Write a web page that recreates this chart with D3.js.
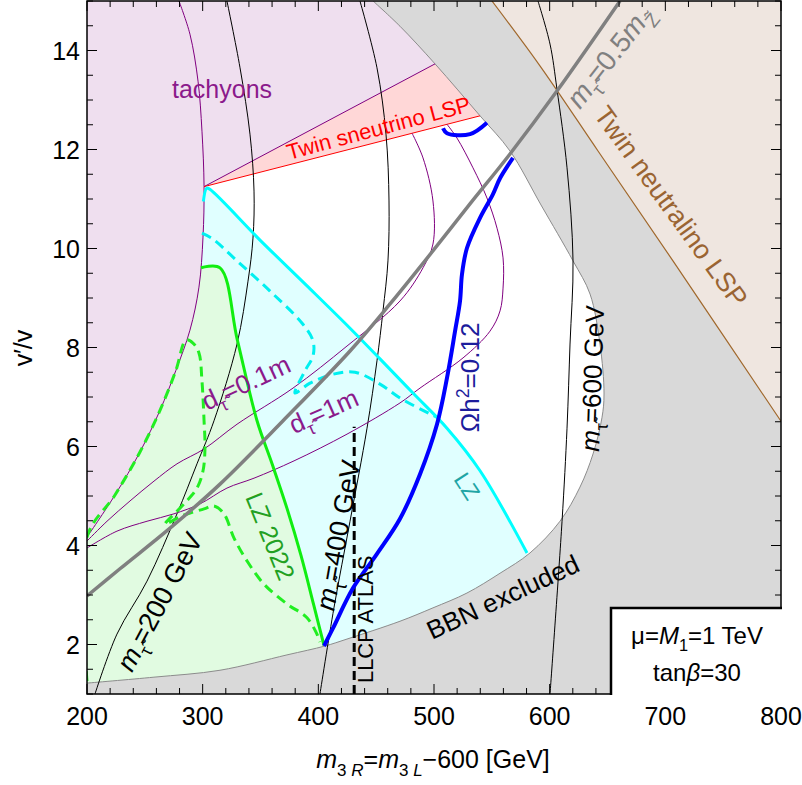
<!DOCTYPE html>
<html><head><meta charset="utf-8">
<script src="https://cdn.jsdelivr.net/npm/d3@7"></script>
<style>body{margin:0;background:#fff}svg{display:block;font-family:"Liberation Sans",Arial,sans-serif}</style>
</head><body><svg id="c" width="802" height="785"></svg>
<script>
// ---------- data (x = m3R [GeV], y = v'/v) ----------
const xTicks = [200,300,400,500,600,700,800];
const yTicks = [2,4,6,8,10,12,14];
const bbnEdge = [[447.3,15],[470.6,14.49],[500.9,13.73],[539.8,12.68],[565.7,11.97],[592.5,10.88],[620.2,9.75],[634.9,9.08],[643.5,8.07],[647.0,7.06],[645.2,6.58],[637.5,5.85],[626.2,5.18],[608.9,4.49],[583.0,3.85],[557.1,3.44],[528.5,3.04],[499.1,2.74],[470.6,2.47],[424.8,2.11],[405.8,1.97],[372.9,1.79],[315.0,1.48],[257.9,1.34],[200,1.22]];
const neutralinoEdge = [[550.1,15],[591.6,13.69],[641.8,11.97],[706.6,9.75],[800,6.51]];
const tachyonEdge = [[279.5,15],[289.0,14.33],[296.0,13.38],[299.4,12.37],[301.2,11.25],[300.3,10.23],[296.8,9.22],[289.0,8.35],[276.9,7.54],[263.1,6.73],[245.8,5.89],[224.2,5.02],[200,4.17]];
const sneutrinoUpper = [[301.2,11.25],[500.9,13.73]];
const sneutrinoLower = [[301.2,11.25],[539.8,12.68]];
const lzLine = [[300.6,10.95],[303.5,11.22],[306.5,11.19],[350,10.16],[390,9.25],[427.4,8.39],[453.3,7.77],[481.8,7.08],[511.2,6.37],[539.8,5.51],[580.4,3.85]];
const lzDashed = [[299.4,10.31],[308.9,10.19],[329.7,9.75],[358.2,9.14],[386.7,8.47],[395.4,8.13],[395.4,7.83],[388.5,7.53],[379.8,7.08],[392.8,7.28],[412.7,7.46],[431.7,7.50],[453.3,7.26],[470.6,6.98],[496.5,6.66],[505.2,6.56]];
const lz2022Line = [[298.6,9.61],[315.0,9.61],[330.0,8.15],[347.0,6.52],[360.0,5.65],[372.9,4.75],[385.0,3.80],[396.0,2.80],[404.9,1.98]];
const lz2022Dashed = [[200,1.26],[200,4.17],[224.2,5.02],[245.8,5.89],[263.1,6.73],[276.9,7.54],[285.6,8.15],[291.6,8.09],[296.8,7.89],[299.4,7.32],[301.2,6.52],[302.0,5.97],[300.3,5.51],[295.1,5.16],[283.9,4.84],[267.4,4.43],[282.1,4.60],[301.2,4.74],[309.8,4.80],[318.4,4.64],[327.1,4.15],[338.3,3.69],[353.0,3.22],[372.9,2.82],[390.2,2.54],[398.8,2.21],[401.4,2.05]];
const relicLine = [[404.9,1.97],[412.7,2.33],[430.0,3.14],[450.7,3.83],[470.6,4.54],[487.9,5.44],[502.6,6.45],[511.2,7.38],[518.2,8.33],[522.5,8.94],[524.2,9.48],[528.5,10.01],[539.8,10.62],[551.0,11.10],[557.1,11.42],[568.3,11.83]];
const relicTop = [[507.8,12.43],[511.2,12.33],[531.1,12.31],[545.8,12.54]];
const decay01 = [[200,4.09],[217.3,4.49],[237.2,4.90],[257.9,5.30],[277.8,5.65],[301.2,5.95],[329.7,6.45],[378.1,7.18],[424.8,8.03],[470.6,8.94],[490.5,9.61],[499.1,10.09],[499.1,10.96],[490.5,11.83],[481.0,12.33]];
const decay1 = [[200,3.95],[225.9,4.29],[251.9,4.49],[275.2,4.64],[297.7,4.84],[321.0,5.16],[344.4,5.36],[379.0,5.71],[424.8,6.25],[470.6,6.88],[487.9,7.18],[525.1,7.79],[548.4,8.33],[557.1,8.74],[559.7,9.20],[559.7,9.81],[554.5,10.41],[545.8,11.02],[533.7,11.63],[519.9,12.23],[511.2,12.51]];
const halfZLine = [[200,2.98],[228.5,3.53],[271.8,4.35],[315.0,5.24],[369.5,6.52],[427.4,7.93],[462.0,8.88],[492.2,9.75],[531.1,10.90],[565.7,11.91],[606.3,13.18],[660.8,15]];
const stau200 = [[321.0,15],[332.3,13.65],[340.9,12.31],[344.4,11.16],[343.5,10.21],[339.2,9.34],[329.7,8.07],[309.8,6.52],[295.1,5.65],[277.8,4.64],[251.9,3.28],[225.9,2.21],[206.9,1]];
const stau400 = [[436.0,15],[450.7,13.65],[458.5,12.31],[461.1,10.96],[460.2,9.75],[455.9,8.74],[450.7,7.73],[442.1,6.37],[427.4,4.49],[413.5,2.74],[401.4,1]];
const stau600 = [[589.9,15],[600.3,14.13],[606.3,13.22],[615.0,11.63],[620.2,9.75],[617.6,8.07],[615.0,6.37],[610.7,4.49],[600.3,1]];
const llcpATLAS = [[431,1],[431,6.4]];

// ---------- setup ----------
const L=87,R=781,T=1,B=694;
const x=d3.scaleLinear().domain([200,800]).range([L,R]);
const y=d3.scaleLinear().domain([1,15]).range([B,T]);
const svg=d3.select('#c');
svg.append('defs').append('clipPath').attr('id','clip').append('rect')
  .attr('x',L).attr('y',T).attr('width',R-L).attr('height',B-T);
const g=svg.append('g').attr('clip-path','url(#clip)');
const smooth=d3.line().x(d=>x(d[0])).y(d=>y(d[1])).curve(d3.curveCatmullRom.alpha(0.5));
const straight=d3.line().x(d=>x(d[0])).y(d=>y(d[1]));
const cont=s=>'L'+s.slice(1);
const [x0,x1]=x.domain(), [y0,y1]=y.domain();

// ---------- filled regions ----------
const last=a=>a[a.length-1];
g.append('path').attr('fill','#e0ffff')
  .attr('d', smooth(lzLine)+cont(straight([[last(lzLine)[0]+20,y0],[x0,y0],[x0,lzLine[0][1]]]))+'Z');
g.append('path').attr('fill','#e1fbe1')
  .attr('d', smooth(lz2022Line)+cont(straight([[last(lz2022Line)[0],y0],[x0,y0],[x0,lz2022Line[0][1]]]))+'Z');
g.append('path').attr('fill','#efdfef')
  .attr('d', straight([[x0,y1],[bbnEdge[1][0],y1],sneutrinoUpper[1]])+cont(smooth(tachyonEdge.slice(4)))+'Z');
g.append('path').attr('fill','#ffd7d7')
  .attr('d', straight([sneutrinoLower[0],sneutrinoLower[1],[sneutrinoLower[1][0],sneutrinoUpper[1][1]],sneutrinoUpper[1]])+'Z');
g.append('path').attr('fill','#d9d9d9')
  .attr('d', smooth(bbnEdge)+cont(straight([[x0,y0],[x1,y0],[x1,y1]]))+'Z');
g.append('path').attr('fill','#efe6e0')
  .attr('d', smooth(neutralinoEdge)+cont(straight([[x1,y1]]))+'Z');

// ---------- lines ----------
function ln(data,color,w,dash,gen){
  g.append('path').attr('d',(gen||smooth)(data)).attr('fill','none').attr('stroke',color)
   .attr('stroke-width',w).attr('stroke-dasharray',dash||null).attr('stroke-linejoin','round');
}
ln(bbnEdge,'#8c8c8c',1);
ln(neutralinoEdge,'#a0682c',1.2);
ln(tachyonEdge,'#800080',1);
ln(sneutrinoUpper,'#800080',1,null,straight);
ln(sneutrinoLower,'#ff0000',1,null,straight);
ln(stau200,'#000',1); ln(stau400,'#000',1); ln(stau600,'#000',1);
ln(decay01,'#800080',1); ln(decay1,'#800080',1);
ln(lz2022Dashed,'#22ee22',3,'10,6');
ln(lzDashed,'#00f0f0',3,'10,6');
ln(lz2022Line,'#11ee11',3);
ln(lzLine,'#00ffff',3);
ln(halfZLine,'#808080',3.5);
ln(llcpATLAS,'#000',3,'9,5',straight);
ln(relicLine,'#0000ff',4);
ln(relicTop,'#0000ff',4);

// ---------- frame & ticks ----------
const ax=svg.append('g').attr('stroke','#000');
const minorX=d3.range(200,801,20), minorY=d3.range(1,15.01,0.5);
minorX.forEach(v=>{const len=xTicks.includes(v)?10:6;
  ax.append('line').attr('x1',x(v)).attr('x2',x(v)).attr('y1',B).attr('y2',B-len).attr('stroke-width',1);
  ax.append('line').attr('x1',x(v)).attr('x2',x(v)).attr('y1',T).attr('y2',T+len).attr('stroke-width',1);});
minorY.forEach(v=>{const len=yTicks.includes(v)?10:6;
  ax.append('line').attr('y1',y(v)).attr('y2',y(v)).attr('x1',L).attr('x2',L+len).attr('stroke-width',1);
  ax.append('line').attr('y1',y(v)).attr('y2',y(v)).attr('x1',R).attr('x2',R-len).attr('stroke-width',1);});
// legend box
const LB={x:611,y:608};
svg.append('rect').attr('x',LB.x).attr('y',LB.y).attr('width',R-LB.x+1).attr('height',B-LB.y+1).attr('fill','#fff');
svg.append('path').attr('d',`M${LB.x},${B}L${L},${B}L${L},${T}L${R},${T}L${R},${LB.y}`)
  .attr('fill','none').attr('stroke','#000').attr('stroke-width',1.5);
svg.append('path').attr('d',`M${LB.x},${B+1}L${LB.x},${LB.y}L${R+1},${LB.y}`)
  .attr('fill','none').attr('stroke','#000').attr('stroke-width',2.5);

// tick labels
xTicks.forEach(v=>svg.append('text').attr('x',x(v)).attr('y',725).attr('text-anchor','middle')
  .attr('font-size',25).text(v));
yTicks.forEach(v=>svg.append('text').attr('x',80).attr('y',y(v)+9).attr('text-anchor','end')
  .attr('font-size',25).text(v));

// ---------- rich text ----------
function rich(px,py,angle,parts,size,color,anchor){
  const t=svg.append('text').attr('transform',`translate(${px},${py}) rotate(${angle})`)
    .attr('font-size',size).attr('fill',color).attr('text-anchor',anchor||'start');
  let cur=0;
  parts.forEach(p=>{
    if(typeof p==='string') p={t:p};
    const shift=p.sub?size*0.3:p.sup?-size*0.4:0;
    const ts=t.append('tspan').attr('dy',shift-cur).text(p.t);
    if(p.sub||p.sup) ts.attr('font-size',size*0.68);
    if(p.it) ts.attr('font-style','italic');
    cur=shift;
  });
  return t;
}
const tau='\u03C4\u0303';
const at=(a,b)=>[x(a),y(b)];
rich(...at(273.5,13.04),0,['tachyons'],25,'#8b1a8b');
rich(...at(374.6,11.79),-15,['Twin sneutrino LSP'],22,'#ff0000');
rich(...at(626.2,12.80),-52,[{t:'m',it:1},{t:tau,sub:1},'=0.5',{t:'m',it:1},{t:'Z\u0303',sub:1}],28,'#808080');
rich(...at(637.4,12.70),54,['Twin neutralino LSP'],27,'#9a6432');
rich(...at(303.7,6.72),-25,['d',{t:tau,sub:1},'=0.1m'],26,'#8b1a8b');
rich(...at(379.0,6.25),-24,['d',{t:tau,sub:1},'=1m'],26,'#8b1a8b');
rich(...at(538.9,6.29),-90,['\u03A9h',{t:'2',sup:1},'=0.12'],26,'#1c1c9c');
rich(...at(516.4,5.34),57,['LZ'],23,'#1fa5a5');
rich(...at(336.6,4.98),68,['LZ 2022'],25,'#22a022');
rich(...at(238.9,1.42),-62,[{t:'m',it:1},{t:tau,sub:1},'=200 GeV'],27,'#000');
rich(...at(413.5,2.66),-80,[{t:'m',it:1},{t:tau,sub:1},'=400 GeV'],27,'#000');
rich(...at(642.7,5.89),-88,[{t:'m',it:1},{t:tau,sub:1},'=600 GeV'],26,'#000');
rich(...at(498.3,2.09),-25,['BBN excluded'],26,'#000');
rich(...at(447.3,1.22),-90,['LLCP ATLAS'],22,'#000');
// legend text
rich(697,644,0,['\u03BC=',{t:'M',it:1},{t:'1',sub:1},'=1 TeV'],24,'#000','middle');
rich(697,681,0,['tan',{t:'\u03B2',it:1},'=30'],24,'#000','middle');
// axis titles
rich(433,768,0,[{t:'m',it:1},{t:'3 ',sub:1},{t:'R',sub:1,it:1},'=',{t:'m',it:1},{t:'3 ',sub:1},{t:'L',sub:1,it:1},'\u2212600 [GeV]'],25,'#000','middle');
rich(32,348,-90,['v\u2032/v'],25,'#000','middle');
</script></body></html>
